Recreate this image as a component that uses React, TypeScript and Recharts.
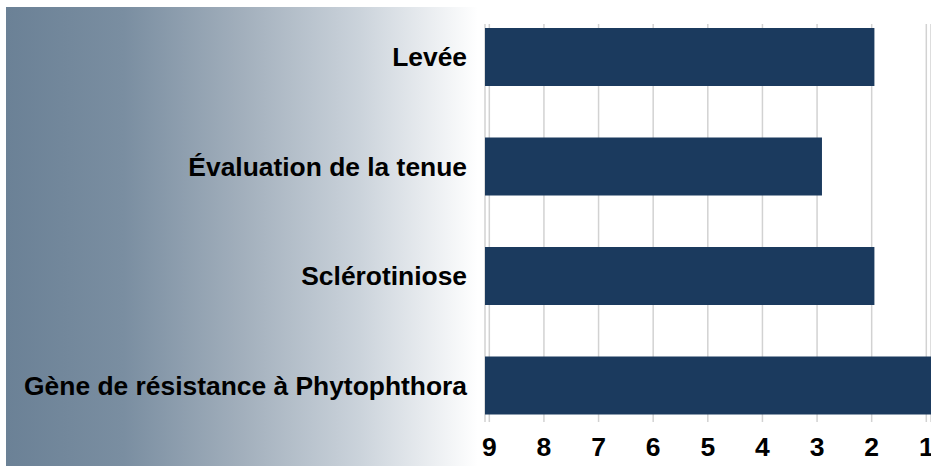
import React from "react";
import { BarChart, Bar, XAxis, YAxis, CartesianGrid } from "recharts";

const categories = [
  "Levée",
  "Évaluation de la tenue",
  "Sclérotiniose",
  "Gène de résistance à Phytophthora",
];
const scores = [1.95, 2.91, 1.95, 0.9];
const scaleTicks = [1, 2, 3, 4, 5, 6, 7, 8, 9];
const scaleMin = 0.914;
const scaleMax = 9.079;

const data = categories.map((name, i) => ({
  name,
  range: [scaleMax, scores[i]],
}));

const FONT = '"Liberation Sans", Arial, Helvetica, sans-serif';

export default function App() {
  return (
    <div
      style={{
        position: "absolute",
        left: 0,
        top: 0,
        width: 931,
        height: 466,
        background: "#ffffff",
        fontFamily: FONT,
      }}
    >
      <div
        style={{
          position: "absolute",
          left: 6,
          top: 7,
          width: 472,
          height: 459,
          background:
            "linear-gradient(to right, #6b8196 0%, #7a8ea1 25%, #a2afbc 50%, #cbd3db 75%, #ffffff 100%)",
        }}
      />
      <div style={{ position: "absolute", left: 0, top: 0 }}>
        <BarChart
          width={931}
          height={466}
          layout="vertical"
          data={data}
          margin={{ top: 2, right: 0, bottom: 0, left: 0 }}
        >
          <CartesianGrid
            horizontal={false}
            vertical={true}
            y={24}
            height={398}
            stroke="#d2d2d2"
            strokeWidth={1.5}
          />
          <XAxis
            type="number"
            domain={[scaleMin, scaleMax]}
            reversed
            allowDataOverflow
            ticks={scaleTicks}
            interval={0}
            height={26}
            axisLine={false}
            tickLine={false}
            tickSize={0}
            tickMargin={-3}
            tick={{ fill: "#000000", fontSize: 26.5, fontWeight: "bold", fontFamily: FONT }}
          />
          <YAxis
            type="category"
            dataKey="name"
            width={485}
            axisLine={false}
            tickLine={false}
            tickSize={0}
            tickMargin={18}
            interval={0}
            tick={{ fill: "#000000", fontSize: 26.4, fontWeight: "bold", fontFamily: FONT }}
          />
          <Bar
            dataKey="range"
            fill="#1b3a5e"
            barSize={58}
            isAnimationActive={false}
          />
        </BarChart>
      </div>
    </div>
  );
}
